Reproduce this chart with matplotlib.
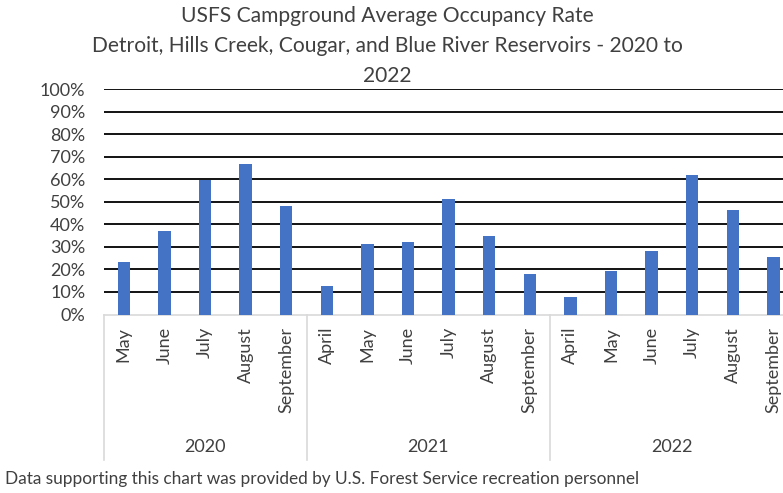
import matplotlib
matplotlib.use("Agg")
import matplotlib.pyplot as plt
import matplotlib.transforms as mtransforms
import numpy as np

years = ["2020", "2021", "2022"]
months = [
    ["May", "June", "July", "August", "September"],
    ["April", "May", "June", "July", "August", "September"],
    ["April", "May", "June", "July", "August", "September"],
]
occupancy = [
    [0.234, 0.370, 0.598, 0.669, 0.484],
    [0.127, 0.314, 0.320, 0.512, 0.349, 0.178],
    [0.078, 0.194, 0.284, 0.619, 0.462, 0.256],
]
y_ticks = [0.0, 0.1, 0.2, 0.3, 0.4, 0.5, 0.6, 0.7, 0.8, 0.9, 1.0]

plt.rcParams["font.family"] = ["Lato", "DejaVu Sans"]
text_color = "#404040"
bar_color = "#4472C4"
axis_color = "#D9D9D9"

W, H = 783, 493
fig = plt.figure(figsize=(W / 100, H / 100), dpi=100)


def fy(px):
    """Pixel row (from top) to figure fraction."""
    return 1 - px / H


# plot area runs past the right edge of the picture, like the cropped original
n_cat = sum(len(m) for m in months)
left_px, right_px, top_px, bottom_px = 103.5, 793.7, 89.3, 314.5
ax = fig.add_axes([left_px / W, fy(bottom_px), (right_px - left_px) / W,
                   (bottom_px - top_px) / H])

labels = [m for grp in months for m in grp]
values = [v for grp in occupancy for v in grp]
x = np.arange(len(labels))
ax.bar(x, values, width=0.31, color=bar_color, zorder=3)

ax.set_xlim(-0.5, n_cat - 0.5)
ax.set_ylim(0, 1)
ax.set_yticks(y_ticks)
ax.set_yticklabels([f"{int(round(t * 100))}%" for t in y_ticks])
ax.tick_params(axis="y", length=0, pad=13, labelsize=13, labelcolor=text_color)
ax.set_xticks([])
for t in y_ticks[1:]:
    ax.axhline(t, color="black", lw=1.3, zorder=1)
for s in ["left", "right", "top"]:
    ax.spines[s].set_visible(False)
ax.spines["bottom"].set_color(axis_color)
ax.spines["bottom"].set_linewidth(1.2)

# multi-level category axis
trans = mtransforms.blended_transform_factory(ax.transData, fig.transFigure)
start = 0
bounds = [-0.5]
for yr, grp in zip(years, months):
    for i, m in enumerate(grp):
        ax.text(start + i, fy(327), m, transform=trans, rotation=90,
                ha="center", va="top", fontsize=13, color=text_color)
    end = start + len(grp)
    bounds.append(end - 0.5)
    ax.text((start + end - 1) / 2, fy(447), yr, transform=trans,
            ha="center", va="center", fontsize=13, color=text_color)
    start = end
for b in bounds[:-1]:
    ax.plot([b, b], [fy(bottom_px), fy(460)], transform=trans, color=axis_color,
            lw=1.2, clip_on=False)

fig.text(387 / W, fy(46),
         "USFS Campground Average Occupancy Rate\n"
         "Detroit, Hills Creek, Cougar, and Blue River Reservoirs - 2020 to\n"
         "2022",
         ha="center", va="center", fontsize=15.1, color=text_color,
         linespacing=1.62)
fig.text(5 / W, fy(479),
         "Data supporting this chart was provided by U.S. Forest Service recreation personnel",
         ha="left", va="center", fontsize=12.4, color=text_color)

fig.savefig("out.png", dpi=100)
